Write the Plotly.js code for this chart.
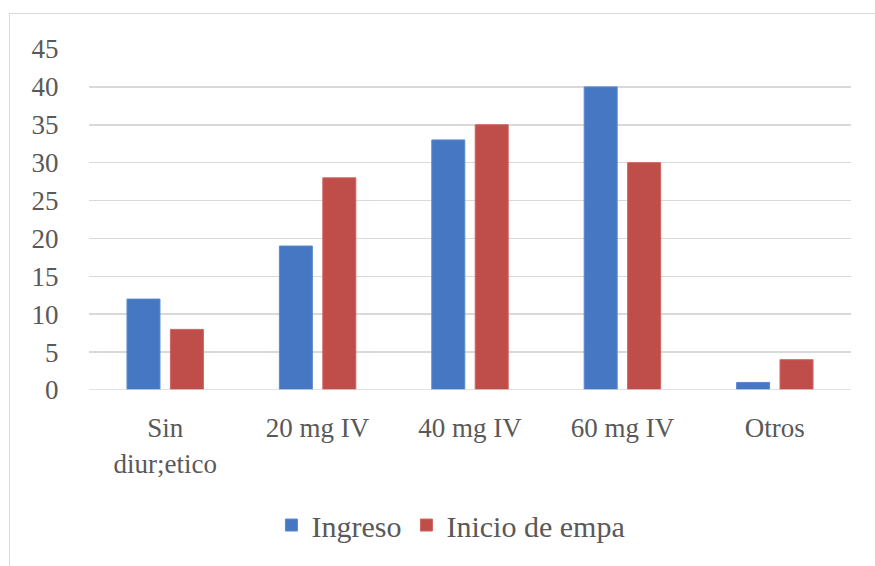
<!DOCTYPE html>
<html>
<head>
<meta charset="utf-8">
<script src="https://cdn.plot.ly/plotly-3.0.1.min.js"></script>
<style>
html,body{margin:0;padding:0;background:#fff;}
#frame{position:absolute;left:9px;top:13px;width:900px;height:600px;border:1.5px solid #d9d9d9;box-sizing:border-box;}
#chart{position:absolute;left:0;top:0;width:875px;height:566px;}
</style>
</head>
<body>
<div id="frame"></div>
<div id="chart"></div>
<script>
const categories = ["Sin<br>diur;etico", "20 mg IV", "40 mg IV", "60 mg IV", "Otros"];
const ingreso = [12, 19, 33, 40, 1];
const inicioEmpa = [8, 28, 35, 30, 4];
const yTicks = [0, 5, 10, 15, 20, 25, 30, 35, 40, 45];

const font = {family: "Liberation Serif, serif", size: 27, color: "#595959"};
const legendFont = {family: "Liberation Serif, serif", size: 30, color: "#595959"};

const traces = [
  {type: "bar", name: "Ingreso", x: categories, y: ingreso,
   marker: {color: "#4677c2", line: {color: "#5b8ad0", width: 1}}},
  {type: "bar", name: "Inicio de empa", x: categories, y: inicioEmpa,
   marker: {color: "#bf4e4b", line: {color: "#cf6461", width: 1}}}
];

const layout = {
  width: 875, height: 566,
  margin: {l: 89, r: 24, t: 49, b: 176},
  paper_bgcolor: "rgba(0,0,0,0)",
  plot_bgcolor: "rgba(0,0,0,0)",
  font: font,
  barmode: "group",
  bargap: 0.43,
  bargroupgap: 0.24,
  showlegend: true,
  legend: {orientation: "h", x: 0.475, xanchor: "center", y: -0.396, yanchor: "middle",
           font: legendFont, bgcolor: "rgba(0,0,0,0)", itemwidth: 30},
  xaxis: {type: "category", showgrid: false, zeroline: false, showline: false,
          ticks: "outside", ticklen: 14, tickcolor: "rgba(0,0,0,0)", tickfont: font},
  yaxis: {range: [0, 45], tickvals: yTicks, ticktext: yTicks.map(String),
          showgrid: true, gridcolor: "#d9d9d9", gridwidth: 1.5,
          zeroline: false, showline: false,
          ticks: "outside", ticklen: 24, tickcolor: "rgba(0,0,0,0)", tickfont: font},
  shapes: [{type: "line", xref: "paper", yref: "y", x0: 0, x1: 1, y0: 0, y1: 0,
            line: {color: "#d9d9d9", width: 1.5}}]
};

Plotly.newPlot("chart", traces, layout, {displayModeBar: false, staticPlot: true});
</script>
</body>
</html>
